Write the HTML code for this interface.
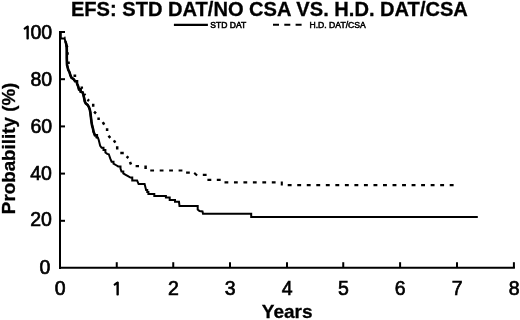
<!DOCTYPE html>
<html><head><meta charset="utf-8"><style>
html,body{margin:0;padding:0;background:#fff;}
svg{display:block;}
text{font-family:"Liberation Sans",Arial,sans-serif;fill:#000;}
</style></head><body>
<svg width="520" height="320" viewBox="0 0 520 320">
<rect width="520" height="320" fill="#fff"/>
<text x="70.9" y="16" font-size="20" font-weight="bold" stroke="#000" stroke-width="0.3" textLength="397" lengthAdjust="spacingAndGlyphs">EFS: STD DAT/NO CSA VS. H.D. DAT/CSA</text>
<line x1="173.9" y1="24.8" x2="207.9" y2="24.8" stroke="#000" stroke-width="2.3"/>
<text x="210.3" y="28.4" font-size="8.3" stroke="#000" stroke-width="0.55" textLength="35.9" lengthAdjust="spacingAndGlyphs">STD DAT</text>
<line x1="273" y1="24.8" x2="302" y2="24.8" stroke="#000" stroke-width="2" stroke-dasharray="6 5.3"/>
<text x="309.5" y="28.4" font-size="8.3" stroke="#000" stroke-width="0.5" textLength="56.3" lengthAdjust="spacingAndGlyphs">H.D. DAT/CSA</text>
<g stroke="#000" stroke-width="2" fill="none">
<line x1="60" y1="31" x2="60" y2="269"/>
<line x1="59" y1="267.7" x2="514.9" y2="267.7"/>
<line x1="116.75" y1="262.2" x2="116.75" y2="268"/><line x1="173.25" y1="262.2" x2="173.25" y2="268"/><line x1="230.00" y1="262.2" x2="230.00" y2="268"/><line x1="287.00" y1="262.2" x2="287.00" y2="268"/><line x1="343.25" y1="262.2" x2="343.25" y2="268"/><line x1="400.10" y1="262.2" x2="400.10" y2="268"/><line x1="457.00" y1="262.2" x2="457.00" y2="268"/><line x1="513.90" y1="262.2" x2="513.90" y2="268"/>
<line x1="61" y1="220.80" x2="65" y2="220.80"/><line x1="61" y1="173.60" x2="65" y2="173.60"/><line x1="61" y1="126.40" x2="65" y2="126.40"/><line x1="61" y1="79.20" x2="65" y2="79.20"/><line x1="61" y1="32.00" x2="65" y2="32.00"/>
</g>
<g font-size="19.5" stroke="#000" stroke-width="0.65"><text x="60.20" y="294.5" text-anchor="middle">0</text><text x="116.95" y="294.5" text-anchor="middle"><tspan font-family="NanumGothic" font-size="18.3" stroke-width="1.1">1</tspan></text><text x="173.45" y="294.5" text-anchor="middle">2</text><text x="230.20" y="294.5" text-anchor="middle">3</text><text x="287.20" y="294.5" text-anchor="middle">4</text><text x="343.45" y="294.5" text-anchor="middle">5</text><text x="400.30" y="294.5" text-anchor="middle">6</text><text x="457.20" y="294.5" text-anchor="middle">7</text><text x="514.10" y="294.5" text-anchor="middle">8</text><text x="50.3" y="273.50" text-anchor="end">0</text><text x="51.9" y="226.30" text-anchor="end">20</text><text x="51.9" y="180.40" text-anchor="end">40</text><text x="52.1" y="133.20" text-anchor="end">60</text><text x="52.2" y="86.00" text-anchor="end">80</text><text x="52.2" y="38.80" text-anchor="end"><tspan font-family="NanumGothic" font-size="18.3" stroke-width="1.1">1</tspan><tspan dx="-2.0">00</tspan></text></g>
<text x="287.2" y="317.6" font-size="19" font-weight="bold" stroke="#000" stroke-width="0.3" text-anchor="middle">Years</text>
<text transform="translate(15.1,148.4) rotate(-90)" font-size="18.8" font-weight="bold" stroke="#000" stroke-width="0.3" text-anchor="middle">Probability (%)</text>
<polyline points="60.80,31.00 60.80,38.50 64.50,38.50 65.30,41.00 66.20,44.00 66.70,47.00 66.80,50.00 66.80,58.00 67.00,65.00 67.30,66.00 68.25,69.75 69.50,72.25 70.40,75.40 71.40,77.60 73.60,79.10 75.10,81.30 77.00,81.30 77.00,83.50 78.10,86.25 79.00,89.40 80.60,89.40 80.60,91.60 82.75,92.50 83.40,95.00 84.00,97.50 84.80,101.50 85.75,103.40 87.60,104.90 88.90,107.10 89.80,109.60 90.40,112.75 90.80,116.25 91.40,121.25 92.10,125.60 93.00,128.75 93.50,131.60 94.90,135.30 96.80,135.30 96.80,137.20 97.90,137.50 98.80,140.30 100.20,145.90 101.60,147.80 103.50,147.80 103.50,150.10 105.40,150.10 105.40,152.50 107.20,153.90 108.80,154.30 110.20,158.40 111.60,161.70 113.50,161.70 113.50,163.60 115.80,165.00 118.20,166.40 120.50,166.40 120.50,168.70 121.50,171.60 123.30,171.60 123.30,173.40 125.70,174.80 128.00,176.20 130.40,177.60 132.25,177.60 132.25,180.40 137.10,180.40 138.60,184.10 144.60,184.10 146.10,190.10 147.25,190.10 147.25,192.10 148.40,192.10 148.40,194.10 154.30,194.10 154.30,196.00 165.90,196.00 165.90,197.50 169.70,197.50 169.70,199.90 175.00,199.90 175.00,201.80 179.00,201.80 179.50,206.00 197.70,206.00 197.70,209.50 199.50,211.00 202.50,211.50 203.00,213.75 251.20,213.75 251.20,216.90 477.80,216.90" fill="none" stroke="#000" stroke-width="2" stroke-linejoin="miter"/>
<polyline points="65.30,41.00 66.20,44.00 66.70,47.00 66.80,50.00 66.80,58.00 67.00,65.00 67.30,66.00 68.25,69.75 69.50,72.25 70.40,75.40 71.40,77.60 73.60,79.10 75.10,81.30 77.00,81.30 77.00,83.50 78.10,86.25 79.00,89.40 80.60,89.40 80.60,91.60 82.75,92.50 83.40,95.00 84.00,97.50 84.80,101.50 85.75,103.40 87.60,104.90 88.90,107.10 89.80,109.60 90.40,112.75 90.80,116.25 91.40,121.25 92.10,125.60 93.00,128.75 93.50,131.60 94.90,135.30 96.80,135.30 96.80,137.20 97.90,137.50" fill="none" stroke="#000" stroke-width="2.6"/>
<path d="M135.60 166.10L139.00 166.10M186.10 172.60L189.80 172.60M194.20 172.90L197.10 175.50M202.80 174.90L206.60 174.90M207.40 179.90L211.30 179.90M216.80 179.90L220.70 179.90M281.80 181.60L281.80 185.60M150.25 170.50L154.05 170.50M159.70 170.50L163.50 170.50M169.15 170.50L172.95 170.50M178.60 170.50L182.40 170.50M224.50 182.40L228.30 182.40M233.96 182.40L237.76 182.40M243.42 182.40L247.22 182.40M252.88 182.40L256.68 182.40M262.34 182.40L266.14 182.40M271.80 182.40L275.60 182.40M287.70 185.10L291.60 185.10M297.23 185.10L301.13 185.10M306.76 185.10L310.66 185.10M316.29 185.10L320.19 185.10M325.82 185.10L329.72 185.10M335.35 185.10L339.25 185.10M344.88 185.10L348.78 185.10M354.41 185.10L358.31 185.10M363.94 185.10L367.84 185.10M373.47 185.10L377.37 185.10M383.00 185.10L386.90 185.10M392.53 185.10L396.43 185.10M402.06 185.10L405.96 185.10M411.59 185.10L415.49 185.10M421.12 185.10L425.02 185.10M430.65 185.10L434.55 185.10M440.18 185.10L444.08 185.10M449.71 185.10L453.61 185.10" fill="none" stroke="#000" stroke-width="2.1"/>
<path d="M64.20 37.60L65.40 37.90M66.60 45.30L67.30 47.50M66.60 53.50L68.80 53.50M67.40 62.80L69.80 62.80M73.50 75.70L76.20 75.70M81.80 86.40L81.80 88.80M84.20 94.00L85.20 95.50M87.50 99.50L89.00 101.00M93.20 103.80L93.20 106.70M94.10 111.70L96.00 113.50M98.60 117.50L98.60 120.00M102.80 122.20L104.20 124.70M107.10 128.20L107.10 130.90M108.50 135.80L110.30 137.90M113.90 140.30L115.30 142.60M117.20 146.30L117.20 149.40M120.30 152.90L123.75 152.90M126.60 156.40L128.40 158.00M130.00 162.00L131.00 164.50M145.60 165.40L145.60 168.90" fill="none" stroke="#000" stroke-width="2.5"/>
</svg>
</body></html>
